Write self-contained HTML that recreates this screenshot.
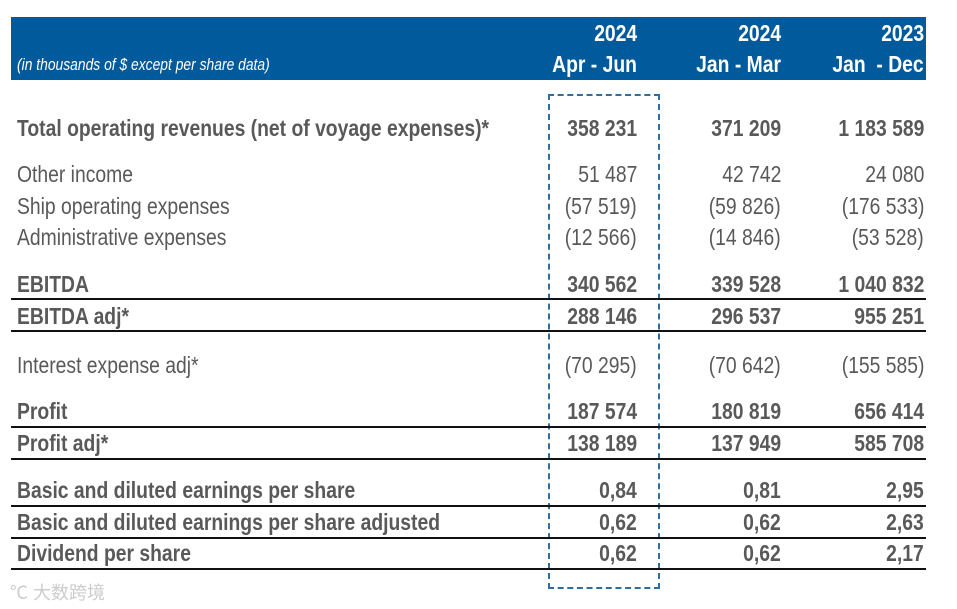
<!DOCTYPE html>
<html><head><meta charset="utf-8">
<style>
body{margin:0;width:957px;height:609px;background:#fff;position:relative;overflow:hidden;font-family:"Liberation Sans",Arial,sans-serif;}
.hdr{position:absolute;left:11px;top:17px;width:915px;height:63px;background:#005a9c;}
.t{position:absolute;white-space:nowrap;font-size:23px;color:#595959;line-height:26px;}
.l{transform:scaleX(0.84);transform-origin:left center;}
.r{transform:scaleX(0.84);transform-origin:right center;text-align:right;}
.b{font-weight:bold;}
.w{color:#fff;font-weight:bold;}
.line{position:absolute;left:11px;width:915px;height:2px;background:#111;}
.box{position:absolute;left:548px;top:94px;width:108px;height:491px;border:2px dashed #2f6f9f;}
</style></head><body>
<div class="hdr"></div>
<div class="t l" style="left:17px;top:55px;font-size:16.5px;font-style:italic;color:#fff;line-height:20px;">(in thousands of $ except per share data)</div>
<div class="t r w" style="right:320px;top:20px;">2024</div>
<div class="t r w" style="right:320px;top:51px;">Apr - Jun</div>
<div class="t r w" style="right:176px;top:20px;">2024</div>
<div class="t r w" style="right:176px;top:51px;">Jan - Mar</div>
<div class="t r w" style="right:33px;top:20px;">2023</div>
<div class="t r w" style="right:33px;top:51px;">Jan &nbsp;- Dec</div>
<div class="box"></div>
<div id="rows"></div>
<div class="t" style="left:10px;top:580px;font-size:18px;color:#ccc;font-family:'Liberation Sans','Noto Sans CJK SC',sans-serif;">℃ 大数跨境</div>
<script>
const labels=["Total operating revenues (net of voyage expenses)*","Other income","Ship operating expenses","Administrative expenses","EBITDA","EBITDA adj*","Interest expense adj*","Profit","Profit adj*","Basic and diluted earnings per share","Basic and diluted earnings per share adjusted","Dividend per share"];
const col1=["358 231","51 487","(57 519)","(12 566)","340 562","288 146","(70 295)","187 574","138 189","0,84","0,62","0,62"];
const col2=["371 209","42 742","(59 826)","(14 846)","339 528","296 537","(70 642)","180 819","137 949","0,81","0,62","0,62"];
const col3=["1 183 589","24 080","(176 533)","(53 528)","1 040 832","955 251","(155 585)","656 414","585 708","2,95","2,63","2,17"];
const bold=[1,0,0,0,1,1,0,1,1,1,1,1];
const ys=[128,174,206,237,284,316,365,411,443,490,522,553];
const lines=[299,331,427,459,506,538,569];
const root=document.getElementById('rows');
labels.forEach((lab,i)=>{
  const mk=(txt,cls,style,name)=>{const d=document.createElement('div');d.className='t '+cls+(bold[i]?' b':'');d.textContent=txt;d.setAttribute('style',style+'top:'+(ys[i]-13)+'px;');
  
  
  root.appendChild(d);};
  mk(lab,'l','left:17px;','row-label');
  mk(col1[i],'r','right:320px;','cell-apr-jun');
  mk(col2[i],'r','right:176px;','cell-jan-mar');
  mk(col3[i],'r','right:33px;','cell-jan-dec');
});
lines.forEach(y=>{const d=document.createElement('div');d.className='line';d.style.top=(y-1)+'px';


root.appendChild(d);});
</script>
</body></html>
